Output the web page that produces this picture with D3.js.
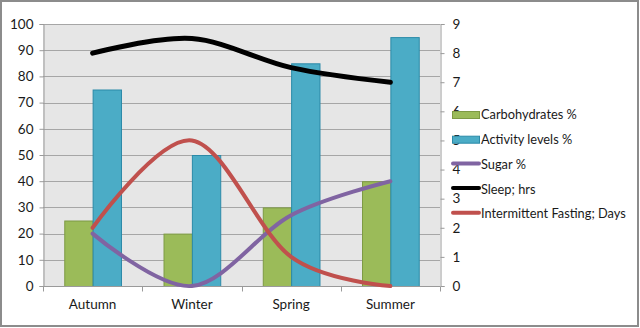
<!DOCTYPE html>
<html>
<head>
<meta charset="utf-8">
<script src="https://cdn.jsdelivr.net/npm/d3@7"></script>
<style>
  html, body { margin: 0; padding: 0; background: #fff; }
  svg { display: block; }
  text { font-family: Lato, "Open Sans", sans-serif; fill: #1a1a1a; }
</style>
</head>
<body>
<svg id="chart" width="640" height="328"></svg>
<script>
// Seasonal health tracking data
const seasons = ["Autumn", "Winter", "Spring", "Summer"];
const carbohydrates = [25, 20, 30, 40];      // % (left axis)
const activityLevels = [75, 50, 85, 95];     // % (left axis)
const sugar = [20, 0, 27, 40];               // % (left axis)
const sleepHrs = [8, 8.5, 7.5, 7];           // hours (right axis)
const fastingDays = [2, 5, 1, 0];            // days (right axis)
const leftTicks = [0, 10, 20, 30, 40, 50, 60, 70, 80, 90, 100];
const rightTicks = [0, 1, 2, 3, 4, 5, 6, 7, 8, 9];

const svg = d3.select("#chart");
const W = 640, H = 328;
const plot = { left: 43, right: 440, top: 24, bottom: 286 };

// outer frame
svg.append("rect")
  .attr("x", 1).attr("y", 1).attr("width", W - 3).attr("height", H - 3)
  .attr("fill", "#fff").attr("stroke", "#8c8c8c").attr("stroke-width", 2);

const x0 = d3.scaleBand().domain(seasons).range([plot.left, plot.right]).padding(0);
const x1 = d3.scaleBand().domain(["carb", "act"]).range([0, x0.bandwidth()])
  .paddingInner(0).paddingOuter(0.75);
const yL = d3.scaleLinear().domain([0, 100]).range([plot.bottom, plot.top]);
const yR = d3.scaleLinear().domain([0, 9]).range([plot.bottom, plot.top]);
const cx = s => x0(s) + x0.bandwidth() / 2;

// plot background
svg.append("rect")
  .attr("x", plot.left).attr("y", plot.top)
  .attr("width", plot.right - plot.left).attr("height", plot.bottom - plot.top)
  .attr("fill", "#e6e6e6");

// horizontal gridlines
svg.append("g").selectAll("line").data(leftTicks.filter(d => d > 0)).join("line")
  .attr("x1", plot.left).attr("x2", plot.right)
  .attr("y1", d => Math.round(yL(d)) + 0.5).attr("y2", d => Math.round(yL(d)) + 0.5)
  .attr("stroke", "#a6a6a6").attr("stroke-width", 1);

// left axis
const axL = svg.append("g").attr("transform", `translate(${plot.left + 0.5},0)`)
  .call(d3.axisLeft(yL).tickValues(leftTicks).tickSize(4).tickPadding(6).tickFormat(d3.format("d")));
axL.select(".domain").attr("stroke", "#9a9a9a");
axL.selectAll(".tick line").attr("stroke", "#9a9a9a");
axL.selectAll(".tick text").attr("font-size", 13.5).attr("fill", "#1a1a1a")
  .style("font-family", "Lato, sans-serif");

// right axis
const axR = svg.append("g").attr("transform", `translate(${plot.right + 0.5},0)`)
  .call(d3.axisRight(yR).tickValues(rightTicks).tickSize(4).tickPadding(8).tickFormat(d3.format("d")));
axR.select(".domain").attr("stroke", "#9a9a9a");
axR.selectAll(".tick line").attr("stroke", "#9a9a9a");
axR.selectAll(".tick text").attr("font-size", 13.5).attr("fill", "#1a1a1a")
  .style("font-family", "Lato, sans-serif");

// bars
const barSeries = [
  { key: "carb", values: carbohydrates, fill: "#9bbb59", stroke: "#7d9a44" },
  { key: "act", values: activityLevels, fill: "#4bacc6", stroke: "#2b8aa8" }
];
barSeries.forEach(s => {
  svg.append("g").selectAll("rect").data(seasons).join("rect")
    .attr("x", d => x0(d) + x1(s.key) + 0.5)
    .attr("y", (d, i) => yL(s.values[i]) + 0.5)
    .attr("width", x1.bandwidth())
    .attr("height", (d, i) => plot.bottom - yL(s.values[i]))
    .attr("fill", s.fill).attr("stroke", s.stroke).attr("stroke-width", 1);
});

// bottom axis
const axB = svg.append("g").attr("transform", `translate(0,${plot.bottom + 0.5})`);
axB.append("line").attr("x1", plot.left).attr("x2", plot.right)
  .attr("stroke", "#9a9a9a");
axB.selectAll("line.tk").data(d3.range(seasons.length + 1)).join("line")
  .attr("class", "tk")
  .attr("x1", i => Math.round(plot.left + i * x0.step()) + 0.5)
  .attr("x2", i => Math.round(plot.left + i * x0.step()) + 0.5)
  .attr("y1", 0).attr("y2", 5).attr("stroke", "#9a9a9a");
axB.selectAll("text").data(seasons).join("text")
  .attr("x", d => cx(d)).attr("y", 22)
  .attr("text-anchor", "middle").attr("font-size", 13.5)
  .text(d => d);

// smoothed line series
const lineSeries = [
  { name: "Sugar %", values: sugar, scale: yL, color: "#8064a2", width: 4 },
  { name: "Sleep; hrs", values: sleepHrs, scale: yR, color: "#000000", width: 5 },
  { name: "Intermittent Fasting; Days", values: fastingDays, scale: yR, color: "#c0504d", width: 4 }
];
lineSeries.forEach(s => {
  const line = d3.line()
    .x((d, i) => cx(seasons[i]))
    .y(d => s.scale(d))
    .curve(d3.curveCardinal.tension(0));
  svg.append("path").datum(s.values)
    .attr("d", line)
    .attr("fill", "none").attr("stroke", s.color)
    .attr("stroke-width", s.width).attr("stroke-linecap", "round")
    .attr("stroke-linejoin", "round");
});

// legend
const legendItems = [
  { label: "Carbohydrates %", type: "bar", fill: "#9bbb59", stroke: "#7d9a44" },
  { label: "Activity levels %", type: "bar", fill: "#4bacc6", stroke: "#2b8aa8" },
  { label: "Sugar %", type: "line", color: "#8064a2" },
  { label: "Sleep; hrs", type: "line", color: "#000000" },
  { label: "Intermittent Fasting; Days", type: "line", color: "#c0504d" }
];
const lg = svg.append("g");
legendItems.forEach((it, i) => {
  const yc = 115 + i * 24.7;
  if (it.type === "bar") {
    lg.append("rect").attr("x", 452.5).attr("y", yc - 3.5)
      .attr("width", 27).attr("height", 7)
      .attr("fill", it.fill).attr("stroke", it.stroke);
  } else {
    lg.append("line").attr("x1", 453).attr("x2", 479)
      .attr("y1", yc - 1).attr("y2", yc - 1)
      .attr("stroke", it.color).attr("stroke-width", 4).attr("stroke-linecap", "round");
  }
  lg.append("text").attr("x", 481).attr("y", yc).attr("dy", "0.35em")
    .attr("font-size", 12.8).text(it.label);
});
</script>
</body>
</html>
